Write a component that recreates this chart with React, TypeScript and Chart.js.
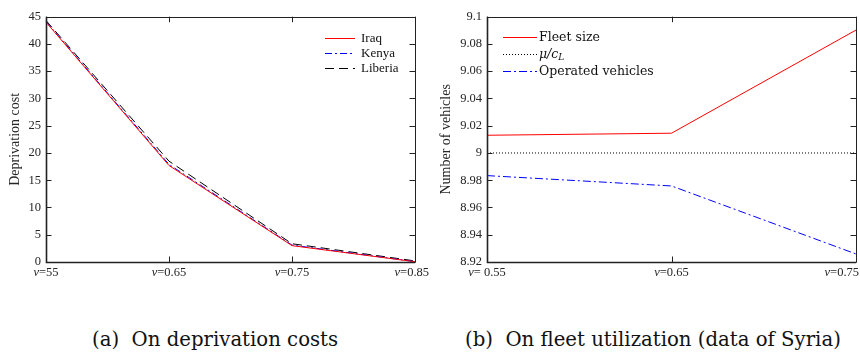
import React, { useEffect, useRef } from "react";
import { Chart, registerables } from "chart.js";
Chart.register(...registerables);

// ---------- Data: left panel (deprivation costs) ----------
const leftCategories = ["0.55", "0.65", "0.75", "0.85"];
const leftTickLabels = ["ν=55", "ν=0.65", "ν=0.75", "ν=0.85"];
const iraq = [44.0, 17.7, 3.0, 0.05];
const kenya = [44.1, 17.9, 3.1, 0.08];
const liberia = [44.3, 18.5, 3.35, 0.2];
const leftYMin = 0;
const leftYMax = 45;
const leftYStep = 5;

// ---------- Data: right panel (fleet utilization, Syria) ----------
const rightCategories = ["0.55", "0.65", "0.75"];
const rightTickLabels = ["ν= 0.55", "ν=0.65", "ν=0.75"];
const fleetSize = [9.013, 9.0145, 9.0902];
const muOverCL = [9, 9, 9];
const operatedVehicles = [8.9834, 8.9758, 8.9259];
const rightYMin = 8.92;
const rightYMax = 9.1;
const rightYStep = 0.02;

const captions = ["(a)  On deprivation costs", "(b)  On fleet utilization (data of Syria)"];

const TEXT = "#262626";
const TIMES = "'Liberation Serif', 'Times New Roman', serif";
const CM = "'DejaVu Serif', serif";

const framePlugin = {
  id: "frame",
  afterDraw(chart: any, _args: any, opts: any) {
    const { ctx, chartArea: a, scales } = chart;
    const xs = scales.x;
    const ys = scales.y;
    const L = 5.5;
    const r = (v: number) => Math.round(v) + 0.5;
    ctx.save();
    ctx.strokeStyle = "#222222";
    ctx.lineWidth = 1;
    ctx.setLineDash([]);
    ctx.beginPath();
    ctx.rect(r(a.left), r(a.top), Math.round(a.right) - Math.round(a.left), Math.round(a.bottom) - Math.round(a.top));
    xs.ticks.forEach((_t: any, i: number) => {
      const px = r(xs.getPixelForTick(i));
      ctx.moveTo(px, a.bottom);
      ctx.lineTo(px, a.bottom - L);
      ctx.moveTo(px, a.top);
      ctx.lineTo(px, a.top + L);
    });
    ys.ticks.forEach((_t: any, i: number) => {
      const py = r(ys.getPixelForTick(i));
      ctx.moveTo(a.left, py);
      ctx.lineTo(a.left + L, py);
      ctx.moveTo(a.right, py);
      ctx.lineTo(a.right - L, py);
    });
    ctx.stroke();
    ctx.lineWidth = 1.6;
    ctx.beginPath();
    ctx.moveTo(r(a.left), a.top);
    ctx.lineTo(r(a.left), r(a.bottom));
    ctx.lineTo(a.right, r(a.bottom));
    ctx.stroke();

    // x tick labels with italic nu
    const labels: string[] = opts.labels || [];
    const sz = 12.5;
    ctx.fillStyle = TEXT;
    ctx.textBaseline = "middle";
    ctx.textAlign = "left";
    xs.ticks.forEach((_t: any, i: number) => {
      const lab = labels[i];
      if (!lab) return;
      const head = lab.charAt(0);
      const rest = lab.slice(1);
      ctx.font = `italic ${sz}px ${TIMES}`;
      const w1 = ctx.measureText(head).width;
      ctx.font = `${sz}px ${TIMES}`;
      const w2 = ctx.measureText(rest).width;
      const w = w1 + w2;
      const px = xs.getPixelForTick(i);
      const cx = Math.min(Math.max(px, w / 2 + 1), chart.width - w / 2 - 1);
      const x0 = cx - w / 2;
      const y = a.bottom + 11;
      ctx.font = `italic ${sz}px ${TIMES}`;
      ctx.fillText(head, x0, y);
      ctx.font = `${sz}px ${TIMES}`;
      ctx.fillText(rest, x0 + w1, y);
    });

    // legend
    const lg = opts.legend;
    if (lg) {
      const x0 = lg.anchor === "right" ? a.right - lg.dx : a.left + lg.dx;
      chart.data.datasets.forEach((ds: any, i: number) => {
        const y = a.top + lg.dy + i * lg.step;
        ctx.save();
        ctx.strokeStyle = ds.borderColor;
        ctx.lineWidth = 1;
        ctx.setLineDash(ds.borderDash || []);
        ctx.beginPath();
        ctx.moveTo(x0, Math.round(y) + 0.5);
        ctx.lineTo(x0 + lg.sample, Math.round(y) + 0.5);
        ctx.stroke();
        ctx.restore();
        const tx = x0 + lg.sample + lg.gap;
        const label: string = ds.label;
        ctx.fillStyle = "#111111";
        ctx.textBaseline = "middle";
        ctx.textAlign = "left";
        if (label.includes("_")) {
          const [main, sub] = label.split("_");
          ctx.font = `italic ${lg.size}px ${lg.family}`;
          ctx.fillText(main, tx, y);
          const mw = ctx.measureText(main).width;
          ctx.font = `italic ${Math.round(lg.size * 0.72)}px ${lg.family}`;
          ctx.fillText(sub, tx + mw, y + lg.size * 0.3);
        } else {
          ctx.font = `${lg.size}px ${lg.family}`;
          ctx.fillText(label, tx, y);
        }
      });
    }
    ctx.restore();
  },
};

const fmt = (v: any) => String(Number(Number(v).toFixed(2)));

function makeLeftConfig(): any {
  return {
    type: "line",
    data: {
      labels: leftCategories,
      datasets: [
        { label: "Iraq", data: iraq, borderColor: "#ff0000", borderWidth: 1, borderDash: [], pointRadius: 0, tension: 0 },
        { label: "Kenya", data: kenya, borderColor: "#0000ff", borderWidth: 1, borderDash: [7, 3, 2, 3], pointRadius: 0, tension: 0 },
        { label: "Liberia", data: liberia, borderColor: "#000000", borderWidth: 1, borderDash: [9, 5], pointRadius: 0, tension: 0 },
      ],
    },
    options: {
      responsive: false,
      animation: false,
      layout: { padding: { top: 16.7, right: 15, left: 0, bottom: 0 } },
      plugins: {
        legend: { display: false },
        tooltip: { enabled: false },
        frame: {
          labels: leftTickLabels,
          legend: { anchor: "right", dx: 90, dy: 21.6, step: 15, sample: 30, gap: 6, size: 13, family: TIMES },
        },
      },
      scales: {
        x: {
          type: "category",
          offset: false,
          grid: { display: false, drawTicks: false },
          border: { display: false },
          ticks: { display: false },
          afterFit: (s: any) => { s.height = 28; },
        },
        y: {
          min: leftYMin,
          max: leftYMax,
          ticks: { stepSize: leftYStep, padding: 5, color: TEXT, font: { family: TIMES, size: 12.5 }, callback: fmt },
          grid: { display: false, drawTicks: false },
          border: { display: false },
          title: { display: true, text: "Deprivation cost", color: TEXT, font: { family: TIMES, size: 14 }, padding: { top: 6.6, bottom: 0 } },
          afterFit: (s: any) => { s.width = 46; },
        },
      },
    },
    plugins: [framePlugin],
  };
}

function makeRightConfig(): any {
  return {
    type: "line",
    data: {
      labels: rightCategories,
      datasets: [
        { label: "Fleet size", data: fleetSize, borderColor: "#ff0000", borderWidth: 1, borderDash: [], pointRadius: 0, tension: 0 },
        { label: "μ/c_L", data: muOverCL, borderColor: "#000000", borderWidth: 1, borderDash: [1, 2], pointRadius: 0, tension: 0 },
        { label: "Operated vehicles", data: operatedVehicles, borderColor: "#0000ff", borderWidth: 1, borderDash: [8, 3, 2, 3], pointRadius: 0, tension: 0 },
      ],
    },
    options: {
      responsive: false,
      animation: false,
      layout: { padding: { top: 16.7, right: 4, left: 0, bottom: 0 } },
      plugins: {
        legend: { display: false },
        tooltip: { enabled: false },
        frame: {
          labels: rightTickLabels,
          legend: { anchor: "left", dx: 16, dy: 20.6, step: 17, sample: 34, gap: 2, size: 12.5, family: CM },
        },
      },
      scales: {
        x: {
          type: "category",
          offset: false,
          grid: { display: false, drawTicks: false },
          border: { display: false },
          ticks: { display: false },
          afterFit: (s: any) => { s.height = 28; },
        },
        y: {
          min: rightYMin,
          max: rightYMax,
          ticks: { stepSize: rightYStep, padding: 5, color: TEXT, font: { family: TIMES, size: 12.5 }, callback: fmt },
          grid: { display: false, drawTicks: false },
          border: { display: false },
          title: { display: true, text: "Number of vehicles", color: TEXT, font: { family: TIMES, size: 14 }, padding: { top: 7.6, bottom: 0 } },
          afterFit: (s: any) => { s.width = 57; },
        },
      },
    },
    plugins: [framePlugin],
  };
}

function ChartCanvas({ make, left }: { make: () => any; left: number }) {
  const ref = useRef<HTMLCanvasElement>(null);
  useEffect(() => {
    if (!ref.current) return;
    const chart = new Chart(ref.current, make());
    return () => chart.destroy();
  }, []);
  return (
    <canvas
      ref={ref}
      width={430}
      height={290}
      style={{ position: "absolute", left, top: 0, width: 430, height: 290, display: "block" }}
    />
  );
}

export default function App() {
  const capStyle: React.CSSProperties = {
    position: "absolute",
    top: 330,
    fontFamily: CM,
    fontSize: 19.7,
    lineHeight: "20px",
    color: "#111",
    whiteSpace: "pre",
  };
  return (
    <div style={{ position: "fixed", left: 0, top: 0, width: 860, height: 354, background: "#fff", overflow: "hidden" }}>
      <ChartCanvas make={makeLeftConfig} left={0} />
      <ChartCanvas make={makeRightConfig} left={430} />
      <div style={{ ...capStyle, left: 92 }}>{captions[0]}</div>
      <div style={{ ...capStyle, left: 465 }}>{captions[1]}</div>
    </div>
  );
}
